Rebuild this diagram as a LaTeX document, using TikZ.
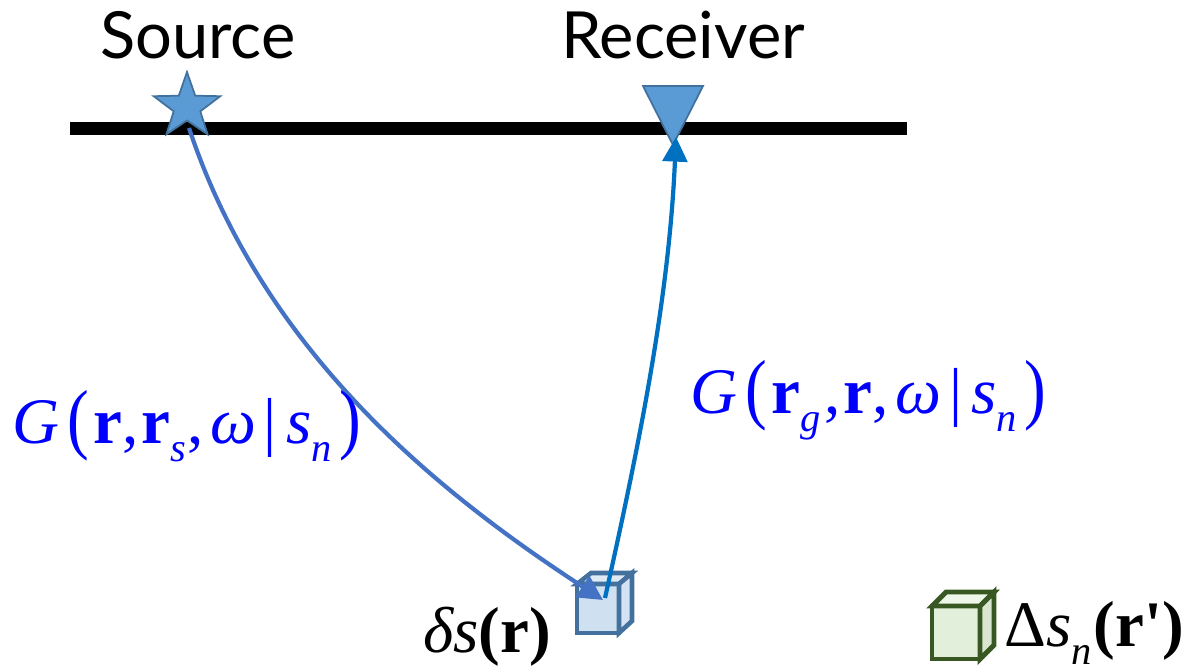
\documentclass[tikz,border=0pt]{standalone}
\usepackage{fontspec}
\setmainfont{Liberation Serif}
\newfontfamily\tnr{Liberation Serif}
\newfontfamily\tnrit{Liberation Serif Italic}
\newfontfamily\labelfont{Lato}
\usepackage{graphicx}
\usetikzlibrary{arrows.meta}
\definecolor{starfill}{HTML}{5B9BD5}
\definecolor{starline}{HTML}{41719C}
\definecolor{arrA}{HTML}{4472C4}
\definecolor{arrB}{HTML}{0070C0}
\definecolor{cubeline}{HTML}{43709C}
\definecolor{cubefront}{HTML}{CFE0F1}
\definecolor{cubetop}{HTML}{DDE9F5}
\definecolor{cubeside}{HTML}{D3E3F3}
\definecolor{gline}{HTML}{385723}
\definecolor{gfront}{HTML}{E2EFDA}
\definecolor{gtop}{HTML}{EEF6EA}
\definecolor{gside}{HTML}{D8E6CF}
\definecolor{lblue}{HTML}{0000FF}
\newcommand{\mi}[1]{{\tnrit #1}}
\newcommand{\lowsub}[1]{\raisebox{-0.28em}{\tnrit\fontsize{23}{23}\selectfont #1}}
\newcommand{\tallL}{\raisebox{-0.03em}{\scalebox{1}[1.2]{\tnr(}}}
\newcommand{\tallR}{\raisebox{-0.03em}{\scalebox{1}[1.2]{\tnr)}}}
\tikzset{
  big/.style={font=\tnr\fontsize{37}{37}\selectfont, inner sep=0pt},
  head/.style={font=\labelfont\fontsize{37}{37}\selectfont, inner sep=0pt, anchor=base},
  bluelabel/.style={big, text=lblue, anchor=base west},
  marker/.style={draw=starline, fill=starfill, line width=1pt, line join=miter},
  raylineA/.style={draw=arrA, line width=2.4pt, -{Triangle[length=14pt,width=14pt]}},
  raylineB/.style={draw=arrB, line width=2.4pt, -{Triangle[length=14pt,width=14pt]}},
  bcube/.style={draw=cubeline, line width=2.6pt, line join=miter},
  gcube/.style={draw=gline, line width=2.8pt, line join=miter},
}
\begin{document}
\begin{tikzpicture}[x=0.02cm,y=-0.02cm]
\useasboundingbox (0,0) rectangle (1183,667);

% surface
\draw[line width=7.4pt] (70,128) -- (907,128);
% small perturbation cube
\draw[bcube, fill=cubefront] (577,584) rectangle (619,633);
\draw[bcube, fill=cubetop] (577,584) -- (591,573) -- (632,573) -- (619,584) -- cycle;
\draw[bcube, fill=cubeside] (619,584) -- (632,573) -- (632,621) -- (619,633) -- cycle;
\coordinate (cubein) at (603,600);
\coordinate (cubeout) at (605,598);

% source ray (under the star)
\coordinate (src) at (189,128);
\draw[raylineA] (src) .. controls (266,360) and (450,500) .. (cubein);
% source star
\draw[marker] (187,72) -- (195.2,95.7) -- (220.3,96.2) -- (200.3,111.3) -- (207.6,134.3)
  -- (187,120.5) -- (166.4,134.3) -- (173.7,111.3) -- (153.7,96.2) -- (178.8,95.7) -- cycle;

% receiver
\draw[marker] (643,86) -- (703,86) -- (673,145) -- cycle;
\coordinate (rcv) at (676,137);
\draw[raylineB] (cubeout) .. controls (640,441) and (669,297) .. (rcv);

% labels
\node[head] (srclbl) at (198,58) {Source};
\node[head] (rcvlbl) at (683,58) {Receiver};

\node[bluelabel] (gs) at (12,443) {\mi{G}\hspace{0.12em}\tallL\hspace{0.08em}\textbf{r},\hspace{0.04em}\textbf{r}\lowsub{s}\hspace{0.02em},\hspace{0.1em}\mi{ω}\hspace{0.12em}|\hspace{0.14em}\mi{s}\lowsub{n}\hspace{0.12em}\tallR};
\node[bluelabel] (gg) at (690,413) {\mi{G}\hspace{0.12em}\tallL\hspace{0.08em}\textbf{r}\lowsub{g}\hspace{0.06em},\hspace{0.04em}\textbf{r},\hspace{0.1em}\mi{ω}\hspace{0.12em}|\hspace{0.14em}\mi{s}\lowsub{n}\hspace{0.12em}\tallR};

\node[big, anchor=base west] (ds) at (423,652) {\mi{δs}\textbf{(r)}};

% model cube
\draw[gcube, fill=gfront] (932,606) rectangle (980,659);
\draw[gcube, fill=gtop] (932,606) -- (946,592) -- (994,592) -- (980,606) -- cycle;
\draw[gcube, fill=gside] (980,606) -- (994,592) -- (994,645) -- (980,659) -- cycle;
\node[big, anchor=base west] (Ds) at (1004,646) {Δ\mi{s}\lowsub{n}\hspace{0.03em}\textbf{(r\textquotesingle)}};
\end{tikzpicture}
\end{document}
